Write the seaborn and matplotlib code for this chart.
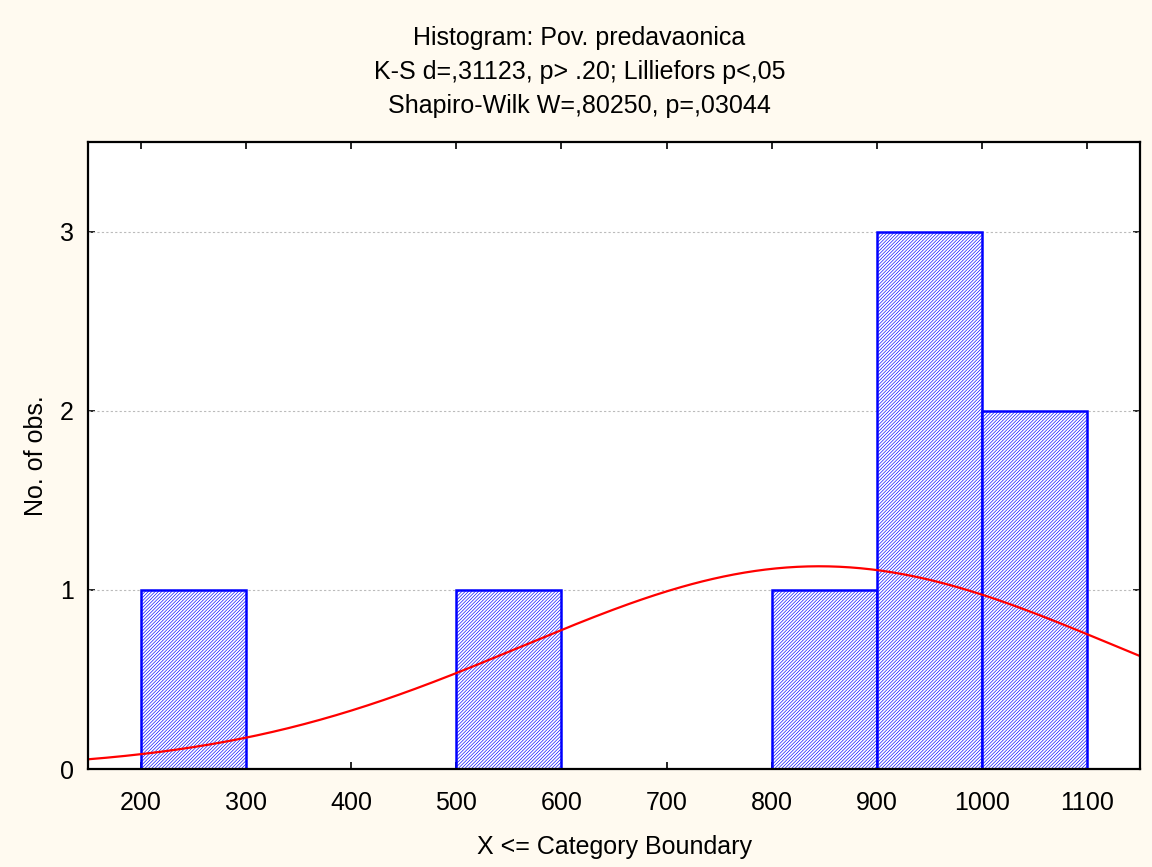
import numpy as np
import pandas as pd
import matplotlib
matplotlib.use("Agg")
import matplotlib.pyplot as plt
import seaborn as sns

observations = [270, 560, 880, 920, 950, 980, 1030, 1070]
bin_edges = [200, 300, 400, 500, 600, 700, 800, 900, 1000, 1100]
x_ticks = [200, 300, 400, 500, 600, 700, 800, 900, 1000, 1100]
y_ticks = [0, 1, 2, 3]

# fitted normal curve, parameters
fit_mean = 845
fit_sd = 282
bin_width = 100

title_lines = [
    "Histogram: Pov. predavaonica",
    "K-S d=,31123, p> .20; Lilliefors p<,05",
    "Shapiro-Wilk W=,80250, p=,03044",
]

BG = "#FFFAF0"


def set_style():
    sns.set_theme(style="white", context="paper")
    plt.rcParams['font.family'] = ['Liberation Sans', 'DejaVu Sans']
    plt.rcParams['hatch.linewidth'] = 0.45
    plt.rcParams['text.color'] = 'black'
    plt.rcParams['axes.labelcolor'] = 'black'
    plt.rcParams['xtick.color'] = 'black'
    plt.rcParams['ytick.color'] = 'black'


def main():
    set_style()
    fig = plt.figure(figsize=(11.52, 8.67), dpi=100, facecolor=BG)
    ax = fig.add_axes([0.0764, 0.1130, 0.9132, 0.7232])
    ax.set_facecolor("white")

    df = pd.DataFrame({"value": observations})
    sns.histplot(data=df, x="value", bins=bin_edges, stat="count",
                 facecolor="white", edgecolor="#0000FF", linewidth=1.8,
                 hatch="//////////", alpha=1, ax=ax, zorder=2)

    xs = np.linspace(150, 1150, 400)
    n = len(observations)
    ys = n * bin_width / (fit_sd * np.sqrt(2 * np.pi)) * np.exp(-0.5 * ((xs - fit_mean) / fit_sd) ** 2)
    ax.plot(xs, ys, color="#FF0000", linewidth=1.6, zorder=3)

    ax.set_xlim(150, 1150)
    ax.set_ylim(0, 3.5)
    ax.set_xticks(x_ticks)
    ax.set_yticks(y_ticks)
    ax.tick_params(axis="both", direction="in", length=5, width=1.2,
                   labelsize=18, colors="black", top=True, right=True,
                   bottom=True, left=True)
    ax.tick_params(axis="x", labeltop=False, pad=16)
    ax.tick_params(axis="y", labelright=False, pad=10)

    for y in y_ticks[1:]:
        ax.axhline(y, color="#BBBBBB", linestyle=(0, (2, 2)), linewidth=0.8, zorder=1)

    for s in ax.spines.values():
        s.set_color("black")
        s.set_linewidth(1.6)
        s.set_zorder(4)

    ax.set_xlabel("X <= Category Boundary", fontsize=18, labelpad=14)
    ax.set_ylabel("No. of obs.", fontsize=18, labelpad=9)

    y0 = 1 - 38 / 867
    for i, line in enumerate(title_lines):
        fig.text(0.503, y0 - i * 34 / 867, line, ha="center", va="center",
                 fontsize=18, color="black")

    fig.savefig("out.png", dpi=100, facecolor=BG)
    plt.close(fig)


if __name__ == "__main__":
    main()
